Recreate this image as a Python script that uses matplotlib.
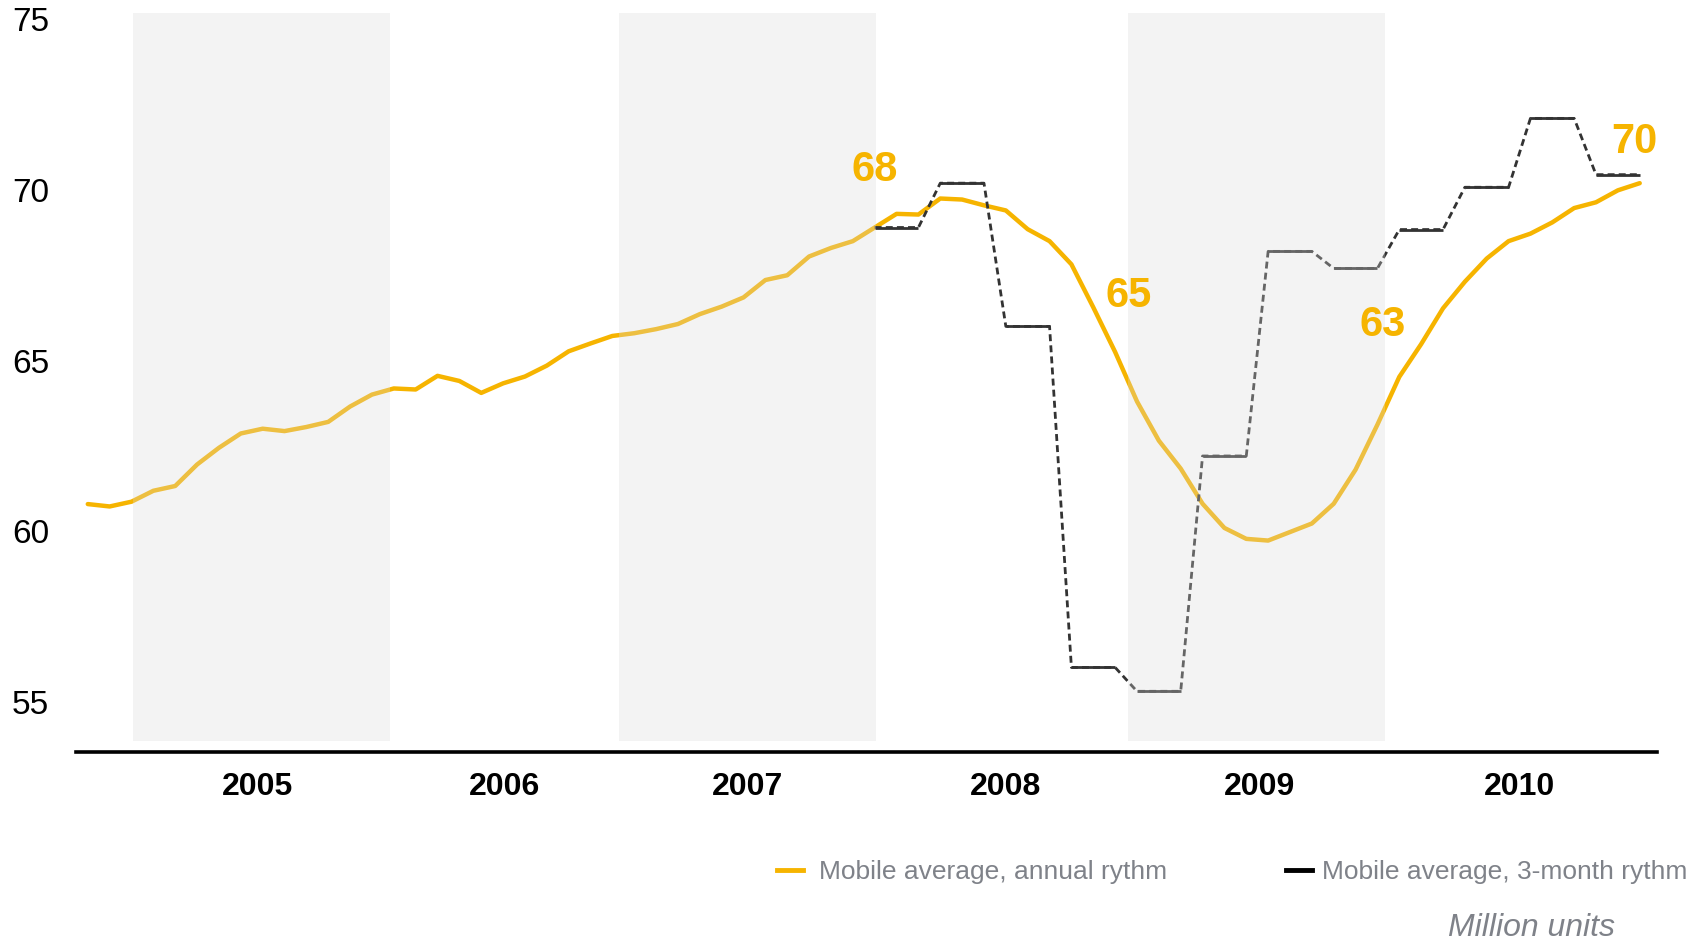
import matplotlib
matplotlib.use("Agg")
import matplotlib.pyplot as plt
from matplotlib.lines import Line2D
import numpy as np

plt.rcParams['font.family'] = ['Liberation Sans', 'DejaVu Sans']

# monthly index, 0 = first month shown
months = np.arange(72)
annual = [60.79, 60.72, 60.86, 61.18, 61.32, 61.95, 62.44, 62.86, 63.0, 62.93,
          63.05, 63.2, 63.65, 64.0, 64.18, 64.15, 64.55, 64.4, 64.05, 64.33,
          64.53, 64.85, 65.27, 65.5, 65.72, 65.8, 65.92, 66.07, 66.36, 66.58,
          66.85, 67.36, 67.5, 68.05, 68.3, 68.5, 68.9, 69.3, 69.28, 69.75,
          69.72, 69.55, 69.4, 68.85, 68.5, 67.82, 66.56, 65.25, 63.8, 62.65,
          61.83, 60.8, 60.09, 59.77, 59.72, 59.97, 60.22, 60.8, 61.8, 63.12,
          64.52, 65.48, 66.53, 67.31, 67.99, 68.5, 68.72, 69.05, 69.47, 69.64,
          69.99, 70.2]

# 3-month average, one value per quarter starting at month 36
quarter_start = 36
quarterly = [68.9, 70.2, 66.0, 56.0, 55.3, 62.2, 68.2, 67.7, 68.84, 70.08, 72.1, 70.45]

years = ['2005', '2006', '2007', '2008', '2009', '2010']
year_pos = [7.78, 19.08, 30.18, 41.98, 53.62, 65.52]
band_spans = [(2.09, 13.83), (24.3, 36.06), (47.6, 59.35)]

callout_vals = [68, 65, 63, 70]
callout_pos = [(36.0, 70.6), (47.64, 66.88), (59.25, 66.04), (70.74, 71.4)]

yellow = '#F6B400'
dark = '#333333'

fig = plt.figure(figsize=(17.06, 9.40), dpi=100)
W, H = 1706, 940
ax = fig.add_axes([76.2 / W, 1 - 752 / H, (1657 - 76.2) / W, (752 - 13) / H])
ax.set_xlim(-0.53, 71.79)
ax.set_ylim(53.52, 75.19)

ax.plot(months, annual, color=yellow, lw=3.2, solid_capstyle='round',
        solid_joinstyle='round', zorder=2)

q_months = quarter_start + np.arange(len(quarterly) * 3)
q_vals = np.repeat(quarterly, 3)
ax.plot(q_months, q_vals, color=dark, lw=2, linestyle=(0, (2.5, 1.5)), zorder=2)
for i in range(len(quarterly)):
    ax.plot(q_months[i * 3:i * 3 + 3], q_vals[i * 3:i * 3 + 3], color=dark, lw=2,
            solid_capstyle='butt', zorder=2)

# light bands drawn over the lines, so lines inside them look washed out
band_bottom = (53.84 - 53.52) / (75.19 - 53.52)
for a, b in band_spans:
    ax.axvspan(a, b, ymin=band_bottom, ymax=1, color='#dadada', alpha=0.3, lw=0, zorder=3)

for val, (mx, my) in zip(callout_vals, callout_pos):
    ax.text(mx, my, str(val), ha='center', va='center', fontsize=30,
            fontweight='bold', color=yellow, zorder=5)

for s in ['top', 'right', 'left']:
    ax.spines[s].set_visible(False)
ax.spines['bottom'].set_linewidth(2.6)
ax.spines['bottom'].set_color('black')

ax.set_yticks([55, 60, 65, 70, 75])
ax.set_xticks(year_pos)
ax.set_xticklabels(years, fontsize=23, fontweight='bold')
ax.tick_params(axis='y', length=0, labelsize=24, pad=19.5)
ax.tick_params(axis='x', length=0, pad=14.5)

h1 = Line2D([], [], color=yellow, lw=3.5)
h2 = Line2D([], [], color='black', lw=3.5)
common = dict(loc='center left', frameon=False, fontsize=19, borderpad=0,
              borderaxespad=0, handlelength=0.98, labelcolor='#7f8289')
fig.legend([h1], ['Mobile average, annual rythm'], bbox_to_anchor=(777 / W, 1 - 872 / H),
           handletextpad=0.6, **common)
fig.legend([h2], ['Mobile average, 3-month rythm'], bbox_to_anchor=(1286 / W, 1 - 872 / H),
           handletextpad=0.4, **common)

fig.text(1532 / W, 1 - 936 / H, 'Million units', ha='center', va='baseline',
         fontsize=23, fontstyle='italic', color='#7f8289')

fig.savefig('out.png', dpi=100)
